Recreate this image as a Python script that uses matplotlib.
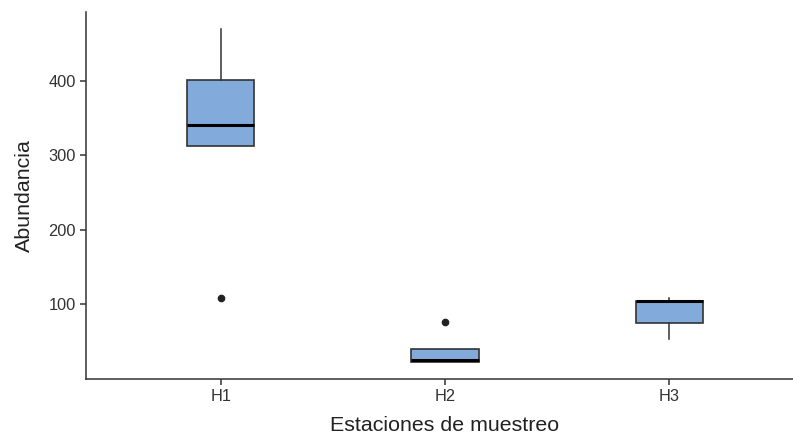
import matplotlib
matplotlib.use("Agg")
import matplotlib.pyplot as plt

plt.rcParams['font.family'] = ['Liberation Sans', 'DejaVu Sans']

# datos
estaciones = ["H1", "H2", "H3"]
q1 = [313, 23, 75]
medianas = [341, 25, 104]
q3 = [401, 40, 105]
bigote_inf = [313, 23, 53]
bigote_sup = [469, 40, 109]
atipicos = [[109], [77], []]

stats = []
for i, nombre in enumerate(estaciones):
    stats.append({
        "label": nombre,
        "q1": q1[i],
        "med": medianas[i],
        "q3": q3[i],
        "whislo": bigote_inf[i],
        "whishi": bigote_sup[i],
        "fliers": atipicos[i],
    })

fig = plt.figure(figsize=(7.93, 4.43), dpi=100)
ax = fig.add_axes([86 / 793, 1 - 379 / 443, (804 - 86) / 793, (379 - 12) / 443])

borde = "#333333"
ax.bxp(stats, positions=[1, 2, 3], widths=0.3, patch_artist=True,
       boxprops=dict(facecolor="#82AADA", edgecolor=borde, linewidth=1.2),
       medianprops=dict(color="black", linewidth=2.2),
       whiskerprops=dict(color=borde, linewidth=1.1),
       capprops=dict(linewidth=0),
       flierprops=dict(marker="o", markerfacecolor="#222222", markeredgecolor="#222222",
                       markersize=4.5))

ax.set_xlim(0.4, 3.6)
ax.set_ylim(0, 492)
ax.set_yticks([100, 200, 300, 400])

for lado in ["top", "right"]:
    ax.spines[lado].set_visible(False)
for lado in ["left", "bottom"]:
    ax.spines[lado].set_color("#333333")
    ax.spines[lado].set_linewidth(1.1)

ax.tick_params(axis="both", colors="#333333", length=4, width=1.1, labelsize=11.8,
               labelcolor="#333333")
ax.set_xlabel("Estaciones de muestreo", fontsize=15.4, color="#222222", labelpad=8)
ax.set_ylabel("Abundancia", fontsize=15.4, color="#222222", labelpad=10)

fig.savefig("out.png", dpi=100)
